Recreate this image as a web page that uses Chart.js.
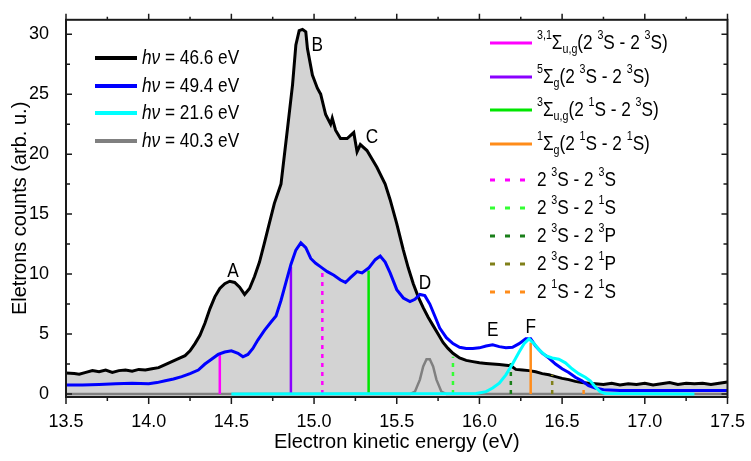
<!DOCTYPE html>
<html>
<head>
<meta charset="utf-8">
<script src="https://cdn.jsdelivr.net/npm/chart.js@4.4.0/dist/chart.umd.min.js"></script>
<style>
  html, body { margin: 0; padding: 0; background: #fff; }
  #wrap { position: relative; width: 751px; height: 461px; }
</style>
</head>
<body>
<div id="wrap"><canvas id="chart-canvas"></canvas></div>
<script>
const FONT = "'Liberation Sans', Arial, sans-serif";
// hand-drawn text is squeezed sideways to get a narrow face
const NARROW = 0.82;

// hν = 46.6 eV
const E_466 = [13.50,13.55,13.58,13.62,13.66,13.70,13.74,13.78,13.82,13.86,13.90,13.94,13.98,14.02,14.06,14.10,14.14,14.18,14.22,
  14.25,14.28,14.31,14.34,14.37,14.40,14.43,14.46,14.49,14.52,14.55,14.58,14.61,14.64,14.67,14.70,
  14.72,14.76,14.80,14.84,14.87,14.89,14.91,14.93,14.95,14.96,
  14.99,15.02,15.04,15.07,15.10,15.11,15.13,15.16,15.20,15.24,15.26,15.28,15.32,15.38,15.43,15.46,15.50,
  15.54,15.57,15.60,15.63,15.66,15.69,15.72,15.75,15.78,15.81,15.84,15.88,15.92,15.96,16.00,
  16.04,16.08,16.12,16.16,16.19,16.22,16.26,16.30,16.34,16.38,16.42,16.46,16.50,16.54,16.58,16.62,16.66,16.70,
  16.75,16.80,16.85,16.90,16.95,17.00,17.05,17.10,17.15,17.20,17.25,17.30,17.35,17.40,17.45,17.50];
const N_466 = [1.75,1.7,1.65,1.8,1.95,1.85,2.0,1.8,1.95,2.0,1.9,2.05,2.0,2.1,2.2,2.45,2.7,2.95,3.2,
  3.6,4.2,4.9,5.9,7.1,8.1,8.8,9.2,9.4,9.3,8.9,8.3,8.8,9.8,11.0,12.6,
  13.7,15.9,17.5,22.2,25.8,29.1,30.3,30.4,30.2,28.8,
  26.6,25.5,25.0,23.3,22.5,23.0,22.0,21.3,21.3,21.8,20.2,20.8,20.3,18.9,17.5,16.2,14.2,
  12.0,10.5,9.2,8.1,7.2,6.4,5.7,5.0,4.3,3.8,3.4,3.0,2.8,2.7,2.6,
  2.55,2.5,2.45,2.4,2.35,2.05,2.0,1.95,1.85,1.7,1.6,1.45,1.3,1.2,1.05,0.95,0.9,0.85,
  0.8,0.9,0.75,0.85,0.8,0.9,0.75,0.85,0.95,0.8,0.9,0.85,0.9,0.8,0.9,1.0];

// hν = 49.4 eV
const E_494 = [13.50,13.60,13.70,13.80,13.90,14.00,14.05,14.10,14.15,14.20,
  14.25,14.30,14.34,14.38,14.42,14.46,14.50,14.54,14.57,14.60,
  14.63,14.66,14.70,14.74,14.77,14.80,14.83,14.86,14.89,14.92,
  14.95,14.98,15.01,15.04,15.08,15.12,15.16,15.19,15.22,15.26,
  15.29,15.33,15.37,15.40,15.43,15.46,15.50,15.54,15.58,15.61,
  15.64,15.67,15.70,15.73,15.76,15.80,15.84,15.88,15.92,15.96,
  16.00,16.04,16.08,16.12,16.16,16.20,16.24,16.28,16.31,16.34,
  16.38,16.42,16.46,16.50,16.54,16.58,16.62,16.66,16.70,16.75,
  16.85,17.00,17.20,17.50];
const N_494 = [0.75,0.75,0.8,0.85,0.9,0.85,0.95,1.1,1.25,1.45,
  1.7,2.0,2.5,2.9,3.3,3.5,3.6,3.4,3.1,3.3,
  3.8,4.5,5.3,6.0,6.5,7.8,9.3,10.8,12.0,12.6,
  12.2,11.3,10.9,10.6,10.2,9.9,9.5,9.3,9.7,10.2,
  10.1,10.5,11.2,11.5,11.0,10.1,8.7,8.0,7.7,7.9,
  8.3,8.2,7.5,6.5,5.5,4.7,4.2,3.9,3.8,3.8,
  3.85,4.0,4.1,3.95,3.85,3.9,4.2,4.6,4.6,4.0,
  3.4,3.0,2.5,2.1,1.8,1.4,1.1,0.7,0.5,0.35,
  0.3,0.3,0.3,0.3];

// hν = 21.6 eV
const E_216 = [14.50,15.98,16.04,16.08,16.12,16.16,16.20,16.24,16.27,16.30,
  16.33,16.36,16.40,16.44,16.48,16.52,16.56,16.60,16.64,16.67,
  16.70,16.73,16.76,17.30];
const N_216 = [0,0.05,0.2,0.5,0.9,1.6,2.5,3.5,4.2,4.6,
  4.2,3.7,3.2,3.0,2.9,2.6,2.1,1.7,1.4,1.1,
  0.6,0.2,0.05,0];

// hν = 40.3 eV
const E_403 = [13.50,15.58,15.61,15.64,15.66,15.68,15.70,15.72,15.74,15.77,15.80,17.50];
const N_403 = [0,0,0.2,1.2,2.3,2.9,2.9,2.3,1.2,0.2,0,0];

const PHOTON_ENERGIES = ['46.6', '49.4', '21.6', '40.3'];
const SPECTRUM_COLORS = ['#000000', '#0000ff', '#00ffff', '#808080'];

// peak letters
const PEAK_LABELS = ['A', 'B', 'C', 'D', 'E', 'F'];
const PEAK_E = [14.51, 15.02, 15.35, 15.67, 16.08, 16.31];
const PEAK_N = [10.25, 29.1, 21.4, 9.2, 5.3, 5.6];

// calculated transitions: first four solid, the rest dotted
const MARK_E = [14.43, 14.86, 15.33, 16.31, 15.05, 15.84, 16.19, 16.44, 16.63];
const MARK_TOP = [3.3, 10.6, 10.3, 4.3, 10.3, 3.1, 3.0, 1.6, 0.6];
const MARK_COLORS = ['#ff00ff', '#8a00ff', '#00e600', '#ff8c1a', '#ff00ff', '#33ff33', '#1a7f1a', '#80801a', '#ff8c1a'];
const MARK_TEXT = [
  [['3,1', 'sup'], ['Σ'], ['u,g', 'sub'], ['(2 '], ['3', 'sup'], ['S - 2 '], ['3', 'sup'], ['S)']],
  [['5', 'sup'], ['Σ'], ['g', 'sub'], ['(2 '], ['3', 'sup'], ['S - 2 '], ['3', 'sup'], ['S)']],
  [['3', 'sup'], ['Σ'], ['u,g', 'sub'], ['(2 '], ['1', 'sup'], ['S - 2 '], ['3', 'sup'], ['S)']],
  [['1', 'sup'], ['Σ'], ['g', 'sub'], ['(2 '], ['1', 'sup'], ['S - 2 '], ['1', 'sup'], ['S)']],
  [['2 '], ['3', 'sup'], ['S - 2 '], ['3', 'sup'], ['S']],
  [['2 '], ['3', 'sup'], ['S - 2 '], ['1', 'sup'], ['S']],
  [['2 '], ['3', 'sup'], ['S - 2 '], ['3', 'sup'], ['P']],
  [['2 '], ['3', 'sup'], ['S - 2 '], ['1', 'sup'], ['P']],
  [['2 '], ['1', 'sup'], ['S - 2 '], ['1', 'sup'], ['S']],
];

const toPoints = (xs, ys) => xs.map((x, i) => ({ x, y: ys[i] }));

function spectrum(i, xs, ys, extra) {
  return Object.assign({
    label: 'hν = ' + PHOTON_ENERGIES[i] + ' eV',
    data: toPoints(xs, ys),
    borderColor: SPECTRUM_COLORS[i],
    borderWidth: 3,
    pointRadius: 0,
    tension: 0,
    fill: false,
  }, extra);
}

const markerSets = MARK_E.map((e, i) => ({
  label: 'mark' + i,
  data: [{ x: e, y: 0 }, { x: e, y: MARK_TOP[i] }],
  borderColor: MARK_COLORS[i],
  borderWidth: 2.5,
  borderDash: i < 4 ? [] : [4, 5],
  pointRadius: 0,
  fill: false,
  order: 30,
}));

/** Draw a run of text pieces with super/subscripts and italics, squeezed sideways. */
function drawRich(ctx, segs, x, y, size) {
  ctx.save();
  ctx.translate(x, y);
  ctx.scale(NARROW, 1);
  let cx = 0;
  segs.forEach(([text, kind]) => {
    let fs = size, dy = 0, style = '';
    if (kind === 'sup') { fs = size * 0.62; dy = -size * 0.36; }
    if (kind === 'sub') { fs = size * 0.62; dy = size * 0.32; }
    if (kind === 'it') style = 'italic ';
    ctx.font = style + fs + 'px ' + FONT;
    ctx.fillText(text, cx, dy);
    cx += ctx.measureText(text).width;
  });
  ctx.restore();
}

// frame with ticks: x ticks point out, y ticks point in
const frameTicks = {
  id: 'frameTicks',
  afterDatasetsDraw(chart) {
    const { ctx, chartArea: a, scales: { x, y } } = chart;
    ctx.save();
    ctx.strokeStyle = '#1a1a1a';
    ctx.lineWidth = 2;
    ctx.strokeRect(a.left, a.top, a.right - a.left, a.bottom - a.top);
    ctx.lineWidth = 1.5;
    ctx.beginPath();
    x.ticks.forEach(t => {
      const px = x.getPixelForValue(t.value);
      const major = Math.abs(t.value * 2 - Math.round(t.value * 2)) < 1e-6;
      const len = major ? 7 : 4;
      ctx.moveTo(px, a.bottom); ctx.lineTo(px, a.bottom + len);
      ctx.moveTo(px, a.top); ctx.lineTo(px, a.top - len + 1);
    });
    y.ticks.forEach(t => {
      const py = y.getPixelForValue(t.value);
      const major = Math.abs(t.value % 5) < 1e-6;
      const len = major ? 6 : 4;
      ctx.moveTo(a.left, py); ctx.lineTo(a.left + len, py);
      ctx.moveTo(a.right, py); ctx.lineTo(a.right - len, py);
    });
    ctx.stroke();
    ctx.restore();
  },
};

// peak letters and both legends
const annotations = {
  id: 'annotations',
  afterDraw(chart) {
    const { ctx, scales: { x, y } } = chart;
    ctx.save();
    ctx.fillStyle = '#000';
    ctx.textBaseline = 'middle';
    ctx.textAlign = 'center';
    PEAK_LABELS.forEach((t, i) => {
      drawRich(ctx, [[t]], x.getPixelForValue(PEAK_E[i]), y.getPixelForValue(PEAK_N[i]), 21);
    });

    ctx.textAlign = 'left';
    ctx.lineCap = 'butt';
    const leftRows = [58, 86, 113, 141];
    PHOTON_ENERGIES.forEach((hv, i) => {
      const ry = leftRows[i];
      ctx.strokeStyle = SPECTRUM_COLORS[i];
      ctx.lineWidth = 4;
      ctx.beginPath(); ctx.moveTo(95, ry); ctx.lineTo(137, ry); ctx.stroke();
      drawRich(ctx, [['hν', 'it'], [' = ' + hv + ' eV']], 142, ry, 21);
    });

    const rightRows = [43, 77, 110, 144, 180, 208, 236, 264, 292];
    MARK_TEXT.forEach((segs, i) => {
      const ry = rightRows[i];
      ctx.strokeStyle = MARK_COLORS[i];
      ctx.lineWidth = 3;
      ctx.setLineDash(i < 4 ? [] : [5, 10]);
      ctx.beginPath(); ctx.moveTo(490, ry); ctx.lineTo(532, ry); ctx.stroke();
      ctx.setLineDash([]);
      drawRich(ctx, segs, 537, ry, 21);
    });
    ctx.restore();
  },
};

new Chart(document.getElementById('chart-canvas'), {
  type: 'line',
  data: {
    datasets: [
      spectrum(0, E_466, N_466, { fill: 'start', backgroundColor: '#d3d3d3', order: 50 }),
      spectrum(3, E_403, N_403, { borderWidth: 2.5, order: 40 }),
      ...markerSets,
      spectrum(1, E_494, N_494, { order: 20 }),
      spectrum(2, E_216, N_216, { order: 10 }),
    ],
  },
  options: {
    responsive: true,
    maintainAspectRatio: false,
    animation: false,
    layout: { padding: { top: 17, right: 18, left: 0, bottom: 0 } },
    plugins: { legend: { display: false }, tooltip: { enabled: false } },
    scales: {
      x: {
        type: 'linear',
        min: 13.5,
        max: 17.5,
        afterFit: s => { s.height = 64; },
        grid: { display: false },
        border: { display: false },
        ticks: {
          stepSize: 0.25,
          autoSkip: false,
          maxRotation: 0,
          includeBounds: false,
          padding: 6,
          color: '#000',
          font: { family: FONT, size: 18 },
          callback: v => (Math.abs(v * 2 - Math.round(v * 2)) < 1e-6 ? v.toFixed(1) : ''),
        },
        title: {
          display: true,
          text: 'Electron kinetic energy (eV)',
          color: '#000',
          font: { family: FONT, size: 20 },
          padding: { top: 0, bottom: 7 },
        },
      },
      y: {
        type: 'linear',
        min: -0.25,
        max: 31.2,
        afterFit: s => { s.width = 66; },
        grid: { display: false },
        border: { display: false },
        ticks: {
          stepSize: 2.5,
          autoSkip: false,
          includeBounds: false,
          padding: 9,
          color: '#000',
          font: { family: FONT, size: 18 },
          callback: v => (Math.abs(v % 5) < 1e-6 ? v : ''),
        },
        title: {
          display: true,
          text: 'Eletrons counts (arb. u.)',
          color: '#000',
          font: { family: FONT, size: 20 },
          padding: { top: 8, bottom: 0 },
        },
      },
    },
  },
  plugins: [frameTicks, annotations],
});
</script>
</body>
</html>
